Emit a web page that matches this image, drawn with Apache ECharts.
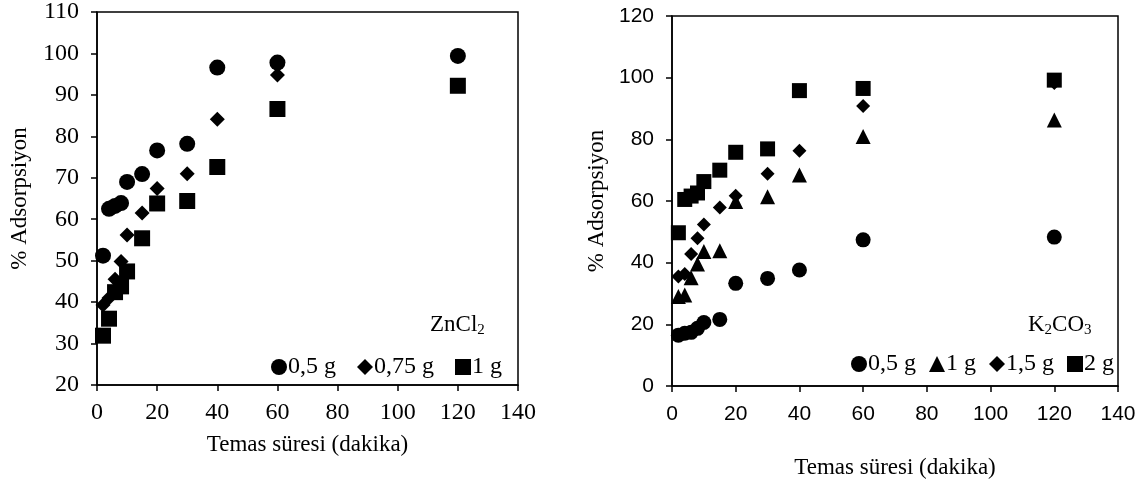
<!DOCTYPE html>
<html><head><meta charset="utf-8">
<script src="https://cdn.jsdelivr.net/npm/echarts@6/dist/echarts.min.js"></script>
<style>html,body{margin:0;padding:0;background:#fff}#c{width:1146px;height:488px}</style>
</head><body><div id="c"></div>
<script>
// Left chart: ZnCl2
const xZn = [2, 4, 6, 8, 10, 15, 20, 30, 40, 60, 120];
const zn05 = [51.2, 62.5, 63.2, 63.9, 69.0, 70.9, 76.6, 78.2, 96.6, 97.8, 99.4];
const zn075 = [39.3, 41.0, 45.5, 49.8, 56.2, 61.5, 67.4, 71.0, 84.1, 94.8, null];
const zn1 = [31.9, 36.0, 42.4, 43.8, 47.4, 55.4, 63.8, 64.4, 72.6, 86.6, 92.2];
// Right chart: K2CO3
const xK = [2, 4, 6, 8, 10, 15, 20, 30, 40, 60, 120];
const k05 = [16.5, 17.1, 17.4, 18.7, 20.6, 21.6, 33.3, 34.9, 37.6, 47.4, 48.3];
const k1 = [29.0, 29.5, 35.1, 39.6, 43.6, 43.9, 59.8, 61.4, 68.4, 80.9, 86.3];
const k15 = [35.5, 36.3, 42.8, 47.9, 52.4, 57.9, 61.7, 68.8, 76.3, 90.8, 98.3];
const k2 = [49.7, 60.5, 61.6, 62.6, 66.3, 70.0, 75.8, 76.9, 95.8, 96.5, 99.2];
const leftYTicks = [20, 110, 10];
const rightYTicks = [0, 120, 20];
const xTicks = [0, 140, 20];

const pair = (xs, ys) => xs.map((x, i) => [x, ys[i]]).filter(p => p[1] != null);
const serif = 'Liberation Serif';
const sans = 'Liberation Sans';

function axisBase(font, size, margin) {
  return {
    axisLine: {show: true, onZero: false, lineStyle: {color: '#000', width: 1.5}},
    axisTick: {show: true, inside: false, length: 6, lineStyle: {color: '#000', width: 1.5}},
    splitLine: {show: false},
    axisLabel: {color: '#000', fontFamily: font, fontSize: size, margin: margin},
    nameTextStyle: {color: '#000', fontFamily: serif, fontSize: 23},
    nameLocation: 'middle'
  };
}

const chart = echarts.init(document.getElementById('c'));
const mk = (name, data, sym, size, xi) => ({
  type: 'scatter', name, data, symbol: sym, symbolSize: size,
  xAxisIndex: xi, yAxisIndex: xi, itemStyle: {color: '#000', opacity: 1}
});

chart.setOption({
  animation: false,
  backgroundColor: '#fff',
  grid: [
    {left: 97, top: 10, width: 421, height: 375, show: true, borderColor: '#000', borderWidth: 1.5},
    {left: 672, top: 16, width: 446, height: 370, show: true, borderColor: '#000', borderWidth: 1.5}
  ],
  xAxis: [
    Object.assign(axisBase(serif, 24, 16), {type: 'value', gridIndex: 0, min: xTicks[0], max: xTicks[1], interval: xTicks[2], name: 'Temas süresi (dakika)', nameGap: 48}),
    Object.assign(axisBase(sans, 21, 18), {type: 'value', gridIndex: 1, min: xTicks[0], max: xTicks[1], interval: xTicks[2], name: 'Temas süresi (dakika)', nameGap: 70})
  ],
  yAxis: [
    Object.assign(axisBase(serif, 24, 18), {type: 'value', gridIndex: 0, min: leftYTicks[0], max: leftYTicks[1], interval: leftYTicks[2], name: '% Adsorpsiyon', nameGap: 66}),
    Object.assign(axisBase(sans, 21, 18), {type: 'value', gridIndex: 1, min: rightYTicks[0], max: rightYTicks[1], interval: rightYTicks[2], name: '% Adsorpsiyon', nameGap: 64})
  ],
  legend: [
    {left: 271, top: 355, padding: 0, itemGap: 21, itemWidth: 16, itemHeight: 16,
     textStyle: {color: '#000', fontFamily: serif, fontSize: 24, padding: [0, 0, 0, -4]},
     data: [{name: 'Z 0,5 g', icon: 'circle'}, {name: 'Z 0,75 g', icon: 'diamond'}, {name: 'Z 1 g', icon: 'rect'}],
     formatter: n => n.slice(2)},
    {left: 851, top: 352, padding: 0, itemGap: 13, itemWidth: 16, itemHeight: 16,
     textStyle: {color: '#000', fontFamily: serif, fontSize: 24, padding: [0, 0, 0, -4]},
     data: [{name: 'K 0,5 g', icon: 'circle'}, {name: 'K 1 g', icon: 'triangle'}, {name: 'K 1,5 g', icon: 'diamond'}, {name: 'K 2 g', icon: 'rect'}],
     formatter: n => n.slice(2)}
  ],
  graphic: [
    {type: 'text', left: 430, top: 313, style: {text: 'ZnCl{s|2}', fill: '#000', font: '23px "Liberation Serif"',
      rich: {s: {fontSize: 15, fontFamily: serif, padding: [11, 0, 0, 0]}}}},
    {type: 'text', left: 1028, top: 313, style: {text: 'K{s|2}CO{s|3}', fill: '#000', font: '23px "Liberation Serif"',
      rich: {s: {fontSize: 15, fontFamily: serif, padding: [11, 0, 0, 0]}}}}
  ],
  series: [
    mk('Z 0,5 g', pair(xZn, zn05), 'circle', 16, 0),
    mk('Z 0,75 g', pair(xZn, zn075), 'diamond', 15, 0),
    mk('Z 1 g', pair(xZn, zn1), 'rect', 16, 0),
    mk('K 0,5 g', pair(xK, k05), 'circle', 15, 1),
    mk('K 1 g', pair(xK, k1), 'triangle', 15, 1),
    mk('K 1,5 g', pair(xK, k15), 'diamond', 14, 1),
    mk('K 2 g', pair(xK, k2), 'rect', 15, 1)
  ]
});
</script></body></html>
